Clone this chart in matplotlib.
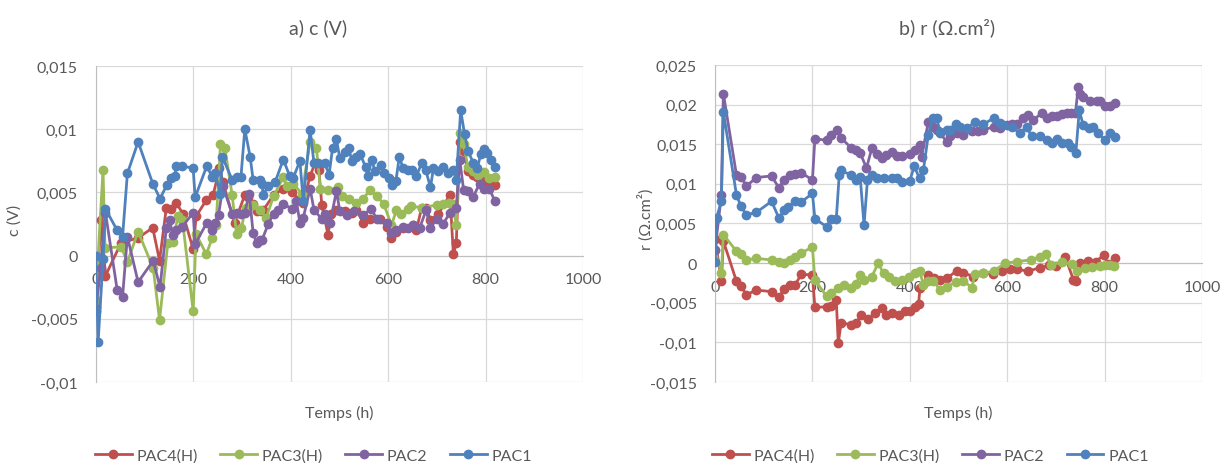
import matplotlib
matplotlib.use('Agg')
import matplotlib.pyplot as plt
from matplotlib.ticker import FuncFormatter, MultipleLocator

plt.rcParams['font.family'] = ['Lato', 'DejaVu Sans']

#### data, chart a) c (V)
c_pac4_t = [0, 11, 20, 52, 87, 117, 131, 145, 155, 165, 179, 200, 206, 227, 241, 254, 261, 285, 306, 313,
            323, 330, 340, 344, 365, 385, 402, 426, 440, 450, 458, 464, 477, 482, 494, 511, 525, 535, 549, 562,
            583, 597, 607, 617, 631, 651, 658, 669, 678, 687, 703, 727, 734, 740, 747, 755, 764, 775, 783, 790,
            802, 812, 819]
c_pac4 = [-0.0041, 0.0028, -0.0016, 0.001, 0.0014, 0.0022, -0.0004, 0.0038, 0.0037, 0.0042,
          0.0033, 0.0005, 0.0031, 0.0044, 0.0048, 0.0069, 0.0058, 0.0026, 0.0048, 0.0046,
          0.0041, 0.0035, 0.0035, 0.0036, 0.0048, 0.0053, 0.005, 0.0042, 0.0063, 0.0073,
          0.0068, 0.004, 0.0016, 0.0033, 0.0036, 0.0035, 0.0034, 0.0036, 0.0026, 0.0029,
          0.0029, 0.0023, 0.0014, 0.0019, 0.0022, 0.0024, 0.002, 0.0038, 0.0038, 0.0028,
          0.0033, 0.0048, 0.0001, 0.001, 0.009, 0.0083, 0.0067, 0.0064, 0.0062, 0.006,
          0.0056, 0.0057, 0.0056]

c_pac3_t = [0, 15, 19, 52, 65, 87, 118, 131, 148, 158, 169, 178, 200, 206, 227, 239, 247, 256, 265, 280,
            289, 299, 308, 323, 337, 350, 365, 385, 392, 405, 423, 440, 453, 461, 476, 497, 506, 519, 535, 549,
            563, 577, 591, 607, 617, 626, 641, 648, 669, 700, 713, 725, 733, 740, 747, 755, 764, 775, 785, 797,
            808, 820]
c_pac3 = [-0.0035, 0.0068, 0.0006, 0.0007, -0.0005, 0.0019, -0.001, -0.0051, 0.001, 0.0011,
          0.0031, 0.0028, -0.0044, 0.0017, 0.0001, 0.0014, 0.0024, 0.0088, 0.0085, 0.0048,
          0.0017, 0.0022, 0.0038, 0.004, 0.0036, 0.003, 0.0047, 0.0062, 0.0055, 0.0057,
          0.0049, 0.009, 0.0085, 0.0053, 0.0052, 0.0054, 0.0047, 0.0045, 0.0042, 0.0045,
          0.0052, 0.0047, 0.0041, 0.0024, 0.0036, 0.0033, 0.0037, 0.0039, 0.0038, 0.004,
          0.0041, 0.0042, 0.0041, 0.0024, 0.0097, 0.0088, 0.007, 0.0067, 0.0064, 0.0066,
          0.0061, 0.0062]

c_pac2_t = [0, 10, 20, 44, 55, 65, 87, 118, 132, 145, 152, 158, 164, 178, 200, 204, 228, 239, 245, 252,
            261, 280, 290, 299, 306, 315, 323, 330, 337, 341, 354, 365, 375, 385, 402, 412, 419, 426, 440, 448,
            464, 470, 481, 494, 501, 515, 530, 549, 565, 577, 597, 607, 617, 631, 641, 652, 665, 678, 687, 700,
            713, 727, 740, 747, 755, 764, 774, 788, 797, 808, 819]
c_pac2 = [-0.0044, -0.001, 0.0034, -0.0027, -0.0033, 0.0015, -0.0021, -0.0004, -0.0025, 0.0022,
          0.0028, 0.0016, 0.002, 0.0023, 0.0034, 0.0009, 0.0026, 0.002, 0.0026, 0.0032,
          0.0055, 0.0033, 0.0034, 0.0033, 0.0034, 0.0049, 0.0018, 0.001, 0.0012, 0.0012,
          0.0025, 0.0033, 0.0036, 0.0041, 0.0037, 0.0043, 0.0026, 0.003, 0.0053, 0.0036,
          0.0029, 0.0033, 0.0026, 0.0051, 0.0035, 0.0032, 0.0035, 0.0032, 0.0037, 0.0029,
          0.0026, 0.0018, 0.002, 0.0023, 0.0022, 0.0024, 0.0022, 0.0036, 0.0022, 0.0029,
          0.0025, 0.0034, 0.0038, 0.0076, 0.0052, 0.0051, 0.0046, 0.0057, 0.0053, 0.0053,
          0.0043]

c_pac1_t = [0, 5, 15, 20, 44, 55, 65, 87, 117, 132, 146, 154, 163, 165, 178, 200, 204, 228, 239, 245,
            256, 260, 280, 290, 298, 306, 317, 323, 337, 341, 344, 354, 368, 385, 398, 405, 419, 426, 440, 448,
            457, 470, 479, 486, 494, 501, 511, 520, 525, 535, 543, 554, 558, 566, 573, 585, 591, 602, 609, 616,
            623, 631, 641, 650, 658, 669, 677, 687, 693, 703, 713, 723, 733, 740, 749, 757, 764, 775, 783, 790,
            797, 803, 812, 819]
c_pac1 = [0, -0.0068, -0.0003, 0.0037, 0.002, 0.00145, 0.0065, 0.009, 0.0057, 0.0045,
          0.0056, 0.0061, 0.0063, 0.0071, 0.0071, 0.0069, 0.0046, 0.0071, 0.0062, 0.0065,
          0.0049, 0.0078, 0.006, 0.0062, 0.0062, 0.01, 0.0078, 0.006, 0.006, 0.0057,
          0.0048, 0.0055, 0.0058, 0.0076, 0.0063, 0.0061, 0.0075, 0.0043, 0.00995, 0.0073,
          0.0073, 0.0073, 0.0064, 0.0085, 0.0092, 0.0077, 0.0082, 0.0085, 0.0075, 0.0078,
          0.008, 0.007, 0.0063, 0.0076, 0.0067, 0.0072, 0.0065, 0.0061, 0.0056, 0.0059,
          0.0078, 0.0069, 0.0068, 0.0068, 0.0063, 0.0073, 0.0068, 0.0054, 0.0069, 0.0067,
          0.007, 0.0065, 0.0068, 0.006, 0.0115, 0.0096, 0.0083, 0.0073, 0.0069, 0.008,
          0.0084, 0.0081, 0.0076, 0.007]

#### data, chart b) r (ohm.cm2)
r_pac4_t = [0, 13, 17, 44, 54, 64, 85, 116, 131, 142, 153, 165, 177, 200, 205, 229, 239, 249, 253, 259,
            280, 290, 300, 314, 328, 342, 352, 363, 377, 390, 400, 410, 418, 421, 438, 450, 462, 476, 496, 510,
            530, 550, 570, 589, 605, 620, 643, 667, 685, 700, 719, 736, 742, 750, 765, 782, 798, 807, 821]
r_pac4 = [0.0031, -0.0023, 0.0028, -0.0023, -0.0029, -0.004, -0.0034, -0.0036, -0.0043, -0.0033,
          -0.0027, -0.0027, -0.0014, -0.0015, -0.0056, -0.0055, -0.0054, -0.0047, -0.0101, -0.0075,
          -0.0078, -0.0075, -0.0066, -0.0071, -0.0063, -0.0057, -0.0065, -0.0063, -0.0065, -0.0061,
          -0.006, -0.0056, -0.0051, -0.0031, -0.0015, -0.0019, -0.0021, -0.0019, -0.001, -0.0012,
          -0.0017, -0.0012, -0.0014, -0.001, -0.0008, -0.0008, -0.001, -0.0006, -0.0003, -0.0004,
          0.0008, -0.0021, -0.0023, 0.0, 0.0003, 0.0002, 0.001, -0.0001, 0.0006]

r_pac3_t = [0, 13, 17, 44, 54, 64, 85, 116, 131, 142, 153, 165, 177, 200, 205, 229, 239, 252, 265, 280,
            290, 298, 306, 322, 335, 346, 357, 370, 383, 398, 410, 420, 428, 438, 448, 462, 476, 494, 510, 527,
            534, 551, 572, 596, 620, 648, 667, 679, 690, 712, 733, 743, 760, 775, 790, 800, 811, 820]
r_pac3 = [0.0016, -0.0013, 0.0036, 0.0015, 0.0012, 0.0004, 0.0006, 0.0004, 0.0001, 0.0,
          0.0004, 0.0008, 0.0013, 0.002, -0.0021, -0.0042, -0.0038, -0.0031, -0.0027, -0.0031,
          -0.0026, -0.0015, -0.0021, -0.0017, 0.0, -0.0013, -0.0017, -0.0023, -0.0021, -0.0018,
          -0.0013, -0.001, -0.0027, -0.0022, -0.0022, -0.0034, -0.003, -0.0024, -0.0022, -0.0031,
          -0.0014, -0.0013, -0.001, 0.0, 0.0002, 0.0004, 0.0008, 0.0011, -0.0002, 0.0001,
          -0.0001, -0.001, -0.0006, -0.0005, -0.0004, -0.0002, -0.0003, -0.0004]

r_pac2_t = [0, 13, 17, 44, 54, 64, 85, 116, 131, 142, 153, 165, 177, 200, 205, 229, 239, 251, 259, 280,
            290, 298, 311, 322, 332, 342, 352, 363, 373, 383, 400, 411, 420, 424, 438, 448, 455, 462, 476, 483,
            496, 510, 527, 541, 551, 572, 585, 599, 609, 620, 633, 643, 654, 671, 681, 692, 702, 712, 722, 732,
            740, 746, 749, 756, 770, 784, 791, 801, 811, 821]
r_pac2 = [0.0017, 0.0086, 0.0214, 0.0111, 0.0109, 0.0097, 0.0108, 0.011, 0.0095, 0.0105,
          0.0111, 0.0113, 0.0114, 0.0105, 0.0157, 0.0155, 0.0162, 0.0168, 0.0158, 0.0145,
          0.0143, 0.0139, 0.012, 0.0145, 0.0138, 0.0133, 0.0137, 0.014, 0.0135, 0.0135,
          0.0138, 0.0143, 0.0149, 0.0134, 0.0178, 0.0172, 0.0168, 0.0164, 0.0153, 0.016,
          0.0164, 0.0162, 0.0167, 0.0167, 0.0168, 0.0172, 0.0171, 0.0174, 0.0175, 0.0176,
          0.0183, 0.0187, 0.018, 0.019, 0.0183, 0.0186, 0.0186, 0.0188, 0.019, 0.019,
          0.0189, 0.0222, 0.0213, 0.021, 0.0204, 0.0205, 0.0205, 0.0198, 0.0198, 0.0202]

r_pac1_t = [0, 3, 13, 17, 44, 53, 64, 85, 116, 131, 142, 150, 165, 177, 200, 205, 229, 239, 249, 255,
            258, 280, 290, 298, 306, 313, 322, 332, 346, 363, 373, 383, 400, 409, 420, 428, 438, 447, 455, 462,
            476, 483, 495, 503, 517, 534, 551, 572, 585, 592, 609, 626, 640, 650, 667, 681, 691, 702, 712, 725,
            732, 741, 748, 756, 767, 777, 787, 801, 811, 821]
r_pac1 = [0.0001, 0.0057, 0.0078, 0.0191, 0.0086, 0.0072, 0.0061, 0.0064, 0.0078, 0.0057,
          0.0067, 0.0071, 0.0078, 0.0077, 0.0088, 0.0056, 0.0046, 0.0056, 0.0056, 0.0111,
          0.0117, 0.0111, 0.0105, 0.0109, 0.0048, 0.0105, 0.0111, 0.0108, 0.0107, 0.0107,
          0.0108, 0.0102, 0.0104, 0.0122, 0.0107, 0.0118, 0.0162, 0.0183, 0.0183, 0.0166,
          0.0168, 0.0168, 0.0176, 0.0172, 0.017, 0.0178, 0.0175, 0.0183, 0.0177, 0.0174,
          0.0172, 0.0164, 0.0172, 0.016, 0.016, 0.0155, 0.0151, 0.0157, 0.0151, 0.0151,
          0.0147, 0.0139, 0.0193, 0.0174, 0.017, 0.0172, 0.0164, 0.0155, 0.0164, 0.0159]

labels = ['PAC4(H)', 'PAC3(H)', 'PAC2', 'PAC1']
colors = ['#C0504D', '#9BBB59', '#8064A2', '#4F81BD']
text_col = '#595959'


def comma(v, pos):
    return f"{round(v, 6):g}".replace('.', ',')


def style_axes(ax, ylim, title, ylabel, title_x, ylab_x, leg_x):
    ax.set_xlim(0, 1000)
    ax.set_ylim(*ylim)
    ax.xaxis.set_major_locator(MultipleLocator(200))
    ax.yaxis.set_major_locator(MultipleLocator(0.005))
    ax.yaxis.set_major_formatter(FuncFormatter(comma))
    ax.grid(True, color='#d9d9d9', lw=0.9, zorder=0)
    ax.set_axisbelow(True)
    for s in ['top', 'right']:
        ax.spines[s].set_visible(False)
    ax.spines['bottom'].set_position(('data', 0))
    ax.spines['bottom'].set_color('#bfbfbf')
    ax.spines['left'].set_color('#bfbfbf')
    ax.tick_params(length=0, labelsize=11.5, colors=text_col)
    ax.tick_params(axis='x', pad=12)
    ax.tick_params(axis='y', pad=13)
    ax.set_ylabel(ylabel, fontsize=11.5, color=text_col)
    ax.yaxis.set_label_coords(ylab_x, 0.515)
    ax.set_xlabel('Temps (h)', fontsize=11.5, color=text_col)
    ax.xaxis.set_label_coords(0.5, -0.072)
    fig.text(title_x, 0.94, title, fontsize=14, color=text_col, ha='center', va='center')
    ax.legend(loc='center', bbox_to_anchor=(leg_x, 0.016), bbox_transform=fig.transFigure,
              ncol=4, frameon=False, fontsize=11.5, labelcolor=text_col,
              handlelength=2.3, handletextpad=0.3, columnspacing=1.4)


fig = plt.figure(figsize=(12.24, 4.64), dpi=100)
ax1 = fig.add_axes([0.0782, 0.1746, 0.3981, 0.681])
ax2 = fig.add_axes([0.5842, 0.1746, 0.3978, 0.6832])

c_series = [(c_pac4_t, c_pac4), (c_pac3_t, c_pac3), (c_pac2_t, c_pac2), (c_pac1_t, c_pac1)]
r_series = [(r_pac4_t, r_pac4), (r_pac3_t, r_pac3), (r_pac2_t, r_pac2), (r_pac1_t, r_pac1)]

for ax, series in [(ax1, c_series), (ax2, r_series)]:
    for (t, v), lab, col in zip(series, labels, colors):
        ax.plot(t, v, '-o', color=col, lw=2.0, ms=6, label=lab, zorder=3)

style_axes(ax1, (-0.01, 0.015), 'a) c (V)', 'c (V)', 0.26, -0.152, 0.256)
style_axes(ax2, (-0.015, 0.025), 'b) r (Ω.cm²)', 'r (Ω.cm²)', 0.774, -0.127, 0.76)

fig.savefig('out.png', dpi=100)
